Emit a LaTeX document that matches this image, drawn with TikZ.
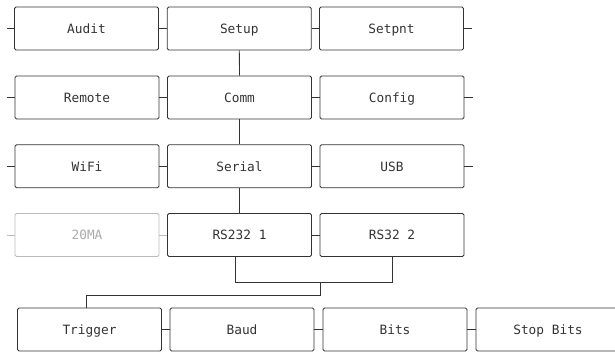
\documentclass[tikz,border=0pt]{standalone}
\usepackage{fontspec}
\setmonofont{DejaVu Sans Mono}
\definecolor{ink}{HTML}{333333}
\definecolor{dim}{HTML}{BBBBBB}
\definecolor{dimtext}{HTML}{AAAAAA}
\begin{document}
\begin{tikzpicture}[x=1pt,y=-1pt,
  box/.style={draw=ink,rounded corners=1.5pt,minimum width=144pt,minimum height=43pt,inner sep=0pt,
    text height=10pt,text depth=0pt,
    font=\ttfamily\fontsize{12.8}{14}\selectfont,text=ink,line width=0.85pt},
  offbox/.style={box,draw=dim,text=dimtext},
  link/.style={draw=ink,line width=0.85pt},
  offlink/.style={draw=dim,line width=0.85pt}]
\useasboundingbox (0,0) rectangle (615,352);
% row 1
\node[box] (audit) at (86.5,28.5) {Audit};
\node[box] (setup) at (239.3,28.5) {Setup};
\node[box] (setpnt) at (391.5,28.5) {Setpnt};
% row 2
\node[box] (remote) at (87,97.5) {Remote};
\node[box] (comm) at (239.5,97.5) {Comm};
\node[box] (config) at (392,97.5) {Config};
% row 3
\node[box] (wifi) at (87,166.3) {WiFi};
\node[box] (serial) at (239.5,166.3) {Serial};
\node[box] (usb) at (392,166.3) {USB};
% row 4
\node[offbox] (ma) at (87,235) {20MA};
\node[box] (rsa) at (239.5,235) {RS232 1};
\node[box] (rsb) at (392,235) {RS32 2};
% row 5
\node[box] (trigger) at (89.5,329.5) {Trigger};
\node[box] (baud) at (242,329.5) {Baud};
\node[box] (bits) at (395,329.5) {Bits};
\node[box] (stop) at (548,329.5) {Stop Bits};
% stubs
\coordinate (l1) at (7,28.5);   \coordinate (r1) at (472,28.5);
\coordinate (l2) at (7,97.5);   \coordinate (r2) at (473,97.5);
\coordinate (l3) at (7,166.3);  \coordinate (r3) at (473,166.3);
\coordinate (l4) at (7,235);
\draw[link] (l1) -- (audit.west) (audit.east) -- (setup.west) (setup.east) -- (setpnt.west) (setpnt.east) -- (r1);
\draw[link] (l2) -- (remote.west) (remote.east) -- (comm.west) (comm.east) -- (config.west) (config.east) -- (r2);
\draw[link] (l3) -- (wifi.west) (wifi.east) -- (serial.west) (serial.east) -- (usb.west) (usb.east) -- (r3);
\draw[offlink] (l4) -- (ma.west) (ma.east) -- (rsa.west);
\draw[link] (rsa.east) -- (rsb.west);
\draw[link] (trigger.east) -- (baud.west) (baud.east) -- (bits.west) (bits.east) -- (stop.west);
% tree
\draw[link] (setup.south) -- (comm.north);
\draw[link] (comm.south) -- (serial.north);
\draw[link] (serial.south) -- (rsa.north);
\coordinate (ja) at (235.7,282.8);
\coordinate (jb) at (392,282.8);
\coordinate (jm) at (320,282.8);
\coordinate (jd) at (320,295.5);
\coordinate (jt) at (86,295.5);
\draw[link] (rsa.south -| ja) -- (ja) -- (jb) -- (rsb.south);
\draw[link] (jm) -- (jd) -- (jt) -- (trigger.north -| jt);
\end{tikzpicture}
\end{document}
